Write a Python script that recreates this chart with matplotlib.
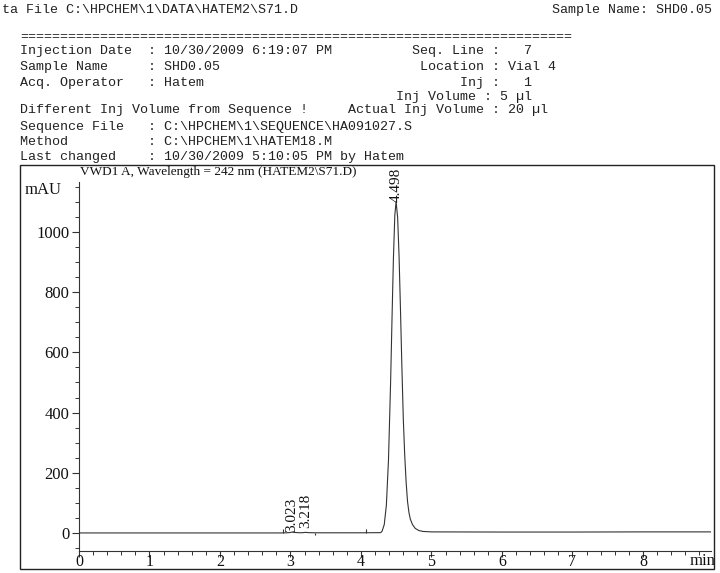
import matplotlib
matplotlib.use('Agg')
import matplotlib.pyplot as plt
from matplotlib.patches import Rectangle
from matplotlib.ticker import MultipleLocator

# ---------------- data ----------------
time_min = [0.00, 1.00, 2.00, 2.85, 2.95, 3.00, 3.023, 3.06, 3.15, 3.20, 3.218, 3.25,
            3.35, 4.00, 4.28, 4.30, 4.33, 4.36, 4.39, 4.42, 4.44, 4.46, 4.48, 4.498,
            4.52, 4.54, 4.56, 4.58, 4.60, 4.62, 4.64, 4.66, 4.68, 4.70, 4.73, 4.77,
            4.82, 4.88, 5.00, 6.00, 7.00, 8.00, 8.96]
signal_mau = [0.0, 0.0, 0.0, 0.0, 0.5, 1.5, 3.0, 1.5, 0.5, 1.5, 2.0, 1.0,
              0.5, 0.5, 1.0, 6, 28, 92, 242, 499, 711, 912, 1056, 1101,
              1048, 920, 744, 553, 381, 260, 170, 105, 68, 46, 28, 15,
              8, 5, 3.5, 3.0, 3.0, 3.5, 3.5]

peak_rt = [3.023, 3.218, 4.498]
peak_labels = ["3.023", "3.218", "4.498"]
label_base = [2.0, 16.0, 1101.0]

event_marks = [2.90, 3.35, 4.07]
event_heights = [14.0, -8.0, 14.0]

x_ticks = [0, 1, 2, 3, 4, 5, 6, 7, 8]
y_ticks = [0, 200, 400, 600, 800, 1000]

title_text = "VWD1 A, Wavelength = 242 nm (HATEM2\\S71.D)"

header_top_left = "ta File C:\\HPCHEM\\1\\DATA\\HATEM2\\S71.D"
header_top_right = "Sample Name: SHD0.05"
header_rows = [
    "Injection Date  : 10/30/2009 6:19:07 PM          Seq. Line :   7",
    "Sample Name     : SHD0.05                         Location : Vial 4",
    "Acq. Operator   : Hatem                                Inj :   1",
    "                                               Inj Volume : 5 \u00b5l",
    "Different Inj Volume from Sequence !     Actual Inj Volume : 20 \u00b5l",
    "Sequence File   : C:\\HPCHEM\\1\\SEQUENCE\\HA091027.S",
    "Method          : C:\\HPCHEM\\1\\HATEM18.M",
    "Last changed    : 10/30/2009 5:10:05 PM by Hatem",
]
header_row_y = [51, 67, 83, 97, 110, 127, 142, 157]
separator = "=" * 69

# ---------------- figure ----------------
W, H = 720, 573
fig = plt.figure(figsize=(7.2, 5.73), dpi=100)
fig.patch.set_facecolor('white')

def fy(py):
    return 1 - py / H

mono = dict(family=['Liberation Mono', 'DejaVu Sans Mono'], size=9.6, color='#222222')
fig.text(2 / W, fy(10), header_top_left, ha='left', va='center', **mono)
fig.text(712 / W, fy(10), header_top_right, ha='right', va='center', **mono)
fig.text(20 / W, fy(37), separator, ha='left', va='center', **mono)
for row, yy in zip(header_rows, header_row_y):
    fig.text(20 / W, fy(yy), row, ha='left', va='center', **mono)

# outer frame
fig.patches.append(Rectangle((20 / W, fy(569)), (714 - 20) / W, (569 - 165) / H,
                             transform=fig.transFigure, fill=False,
                             edgecolor='#222222', linewidth=1.0))

serif = ['Liberation Serif', 'DejaVu Serif']

ax = fig.add_axes([79 / W, fy(551), (711 - 79) / W, (551 - 182) / H])
ax.set_facecolor('none')
ax.plot(time_min, signal_mau, color='#333333', linewidth=0.8)
ax.vlines(event_marks, 0, event_heights, color='#333333', linewidth=0.8)

for rt, lab, yb in zip(peak_rt, peak_labels, label_base):
    ax.text(rt, yb, lab, rotation=90, ha='center', va='bottom',
            family=serif, fontsize=11, color='#111111')

ax.set_xlim(0, 8.965)
ax.set_ylim(-60, 1166)
ax.set_xticks(x_ticks)
ax.set_yticks(y_ticks)
ax.xaxis.set_minor_locator(MultipleLocator(0.2))
ax.yaxis.set_minor_locator(MultipleLocator(50))
for s in ['top', 'right']:
    ax.spines[s].set_visible(False)
for s in ['left', 'bottom']:
    ax.spines[s].set_linewidth(0.8)
    ax.spines[s].set_color('#333333')
ax.tick_params(axis='both', which='major', direction='out', length=5, width=0.8,
               colors='#333333', labelcolor='#111111', labelsize=12)
ax.tick_params(axis='both', which='minor', direction='out', length=3, width=0.7,
               colors='#333333')
ax.tick_params(axis='x', which='major', length=4, pad=-1.5, labelsize=11.5)
ax.tick_params(axis='y', which='major', pad=2)
for lab in ax.get_xticklabels() + ax.get_yticklabels():
    lab.set_family(serif)

fig.text(80 / W, fy(175), title_text, ha='left', va='baseline', family=serif,
         fontsize=9.5, color='#111111')
fig.text(25 / W, fy(190), "mAU", ha='left', va='center', family=serif,
         fontsize=12, color='#111111')
fig.text(715 / W, fy(561), "min", ha='right', va='center', family=serif,
         fontsize=12, color='#111111')

fig.savefig('out.png', dpi=100)
